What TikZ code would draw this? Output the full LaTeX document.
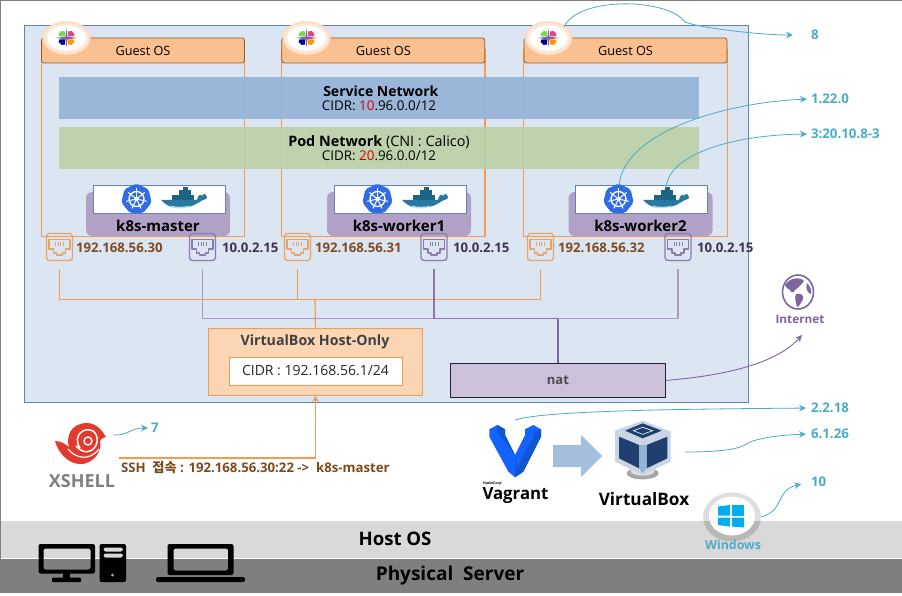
\documentclass[tikz,border=0pt]{standalone}
\usepackage{fontspec}
\setmainfont{Open Sans}
\newfontfamily\krfont{Noto Sans CJK KR}
\usetikzlibrary{arrows.meta,calc}
\definecolor{outerfill}{HTML}{DCE6F2}
\definecolor{outerline}{HTML}{5B86B5}
\definecolor{hdrfill}{HTML}{FAC090}
\definecolor{hdrline}{HTML}{8E5A2B}
\definecolor{frameor}{HTML}{F79A50}
\definecolor{svcblue}{HTML}{95B3D7}
\definecolor{podgreen}{HTML}{BBD1A8}
\definecolor{vmpurple}{HTML}{B2A1C7}
\definecolor{whiteline}{HTML}{5B86B5}
\definecolor{nicor}{HTML}{E8A368}
\definecolor{nicpu}{HTML}{8D7BAE}
\definecolor{ipbrown}{HTML}{7F4A1E}
\definecolor{ipdark}{HTML}{403152}
\definecolor{teal}{HTML}{4BACC6}
\definecolor{netpu}{HTML}{8064A2}
\definecolor{natfill}{HTML}{CCC1DA}
\definecolor{hofill}{HTML}{FCD5B5}
\definecolor{band1}{HTML}{D9D9D9}
\definecolor{band2}{HTML}{7F7F7F}
\definecolor{whalecol}{HTML}{27799F}
\definecolor{whaledark}{HTML}{1F6485}
\definecolor{winblue}{HTML}{00ADEF}
\definecolor{xsred}{HTML}{E23A2E}
\definecolor{vbnavy}{HTML}{1F3F6E}
\definecolor{vbedge}{HTML}{C9D6E6}
\newcommand{\fsz}[1]{\fontsize{#1}{#1}\selectfont}
\tikzset{
  x=1pt,y=-1pt,
  lbl/.style={inner sep=0pt,outer sep=0pt,align=center},
  gosthdr/.style={draw=hdrline,fill=hdrfill,rounded corners=2.5pt,line width=.8pt,minimum width=203pt,minimum height=25pt,inner sep=0pt,font=\fsz{12.7}},
  gostframe/.style={draw=frameor,line width=1.2pt},
  netband/.style={minimum width=640pt,minimum height=42pt,inner sep=0pt,align=center,font=\fsz{13.4},opacity=.92,text opacity=1},
  vmbox/.style={fill=vmpurple,rounded corners=6pt,minimum width=144pt,minimum height=44pt,inner sep=0pt},
  vmname/.style={lbl,font=\bfseries\fsz{15}},
  rtbox/.style={draw=whiteline,fill=white,line width=.7pt,minimum width=132pt,minimum height=28pt,inner sep=0pt},
  nicbox/.style={rounded corners=3pt,line width=1.3pt,minimum width=26pt,minimum height=27pt,inner sep=0pt},
  iplbl/.style={lbl,anchor=west,font=\bfseries\fsz{13.2}},
  oline/.style={draw=frameor,line width=1.2pt},
  pline/.style={draw=netpu!65!white,line width=1.5pt},
  tealarrow/.style={draw=teal,line width=.8pt,-{Stealth[length=7pt,width=6.5pt]}},
  ver/.style={lbl,anchor=west,font=\bfseries\fsz{13.3},text=teal},
}
\newcommand{\centosicon}[2]{%
  \begin{scope}[shift={(#1,#2)}]
    \fill[hofill!80!white] (0,0) ellipse (24 and 17);
    \fill[hdrfill!35!white] (0,0) ellipse (22 and 15);
    \fill[white] (0,0) ellipse (19 and 12.5);
    \fill[netpu] (-10.5,0)--(0,-1.5)--(10.5,0)--(0,1.5)--cycle;
    \fill[netpu] (0,-9)--(-1.2,0)--(0,9)--(1.2,0)--cycle;
    \fill[green!55!olive!70] (-1.5,-1.5)--(-7,-1.5)--(-8,-4)--(-5,-7)--(-1.5,-6.5)--cycle;
    \fill[magenta!60!purple!80] (1.5,-1.5)--(7,-1.5)--(8,-4)--(5,-7)--(1.5,-6.5)--cycle;
    \fill[blue!50!black] (-1.5,1.5)--(-7,1.5)--(-8,4)--(-5,7)--(-1.5,6.5)--cycle;
    \fill[orange!80!yellow] (1.5,1.5)--(7,1.5)--(8,4)--(5,7)--(1.5,6.5)--cycle;
  \end{scope}}
\newcommand{\kubeicon}[2]{%
  \begin{scope}[shift={(#1,#2)}]
    \fill[fill={rgb,255:red,50;green,108;blue,229},rounded corners=2pt]
      (-90:15.5)--(-38.6:15.5)--(12.9:15.5)--(64.3:15.5)--(115.7:15.5)--(167.1:15.5)--(218.6:15.5)--cycle;
    \draw[white,line width=1.3pt] (0,0) circle (7.5);
    \foreach \a in {-90,-38.6,12.9,64.3,115.7,167.1,218.6}{\draw[white,line width=1pt] (0,0)--(\a:10.5);}
    \fill[white] (0,0) circle (2.2);
  \end{scope}}
\newcommand{\whaleicon}[2]{%
  \begin{scope}[shift={(#1,#2)}]
    \fill[whaledark] (-11,-5) rectangle (11,0.5);
    \fill[whaledark] (-4,-9.5) rectangle (8,-5);
    \fill[whaledark] (0,-12.5) rectangle (5,-9.5);
    \fill[whalecol] (-22,0) -- (14,0) .. controls (15,-6) and (18,-6) .. (19,-4)
       .. controls (21,-7) and (23,-6) .. (23,-5) .. controls (24,-3) and (25,-2) .. (23,-1)
       .. controls (19,0) and (17,2) .. (13,4) .. controls (6,8.5) and (-10,9) .. (-14,6)
       .. controls (-18,4) and (-20,2) .. (-22,0) -- cycle;
    \fill[cyan!30!white] (-13,5.5) .. controls (-6,7.5) and (2,7) .. (7,5.5) .. controls (2,9.5) and (-10,9.5) .. (-13,5.5) -- cycle;
  \end{scope}}
\newcommand{\nicicon}[4]{% name,x,y,colour
  \node[nicbox,draw=#4] (#1) at (#2,#3) {};
  \begin{scope}[shift={(#2,#3)}]
    \draw[#4,line width=1.1pt,line join=round] (-10.5,-7.5)--(10.5,-7.5)--(10.5,2)--(6,2)--(6,6)--(3,6)--(3,8)--(-3,8)--(-3,6)--(-6,6)--(-6,2)--(-10.5,2)--cycle;
    \foreach \dx in {-4,-1.3,1.3,4}{\draw[#4,line width=.8pt] (\dx,-5)--(\dx,-1);}
  \end{scope}}
\begin{document}
\begin{tikzpicture}
\useasboundingbox (0,0) rectangle (902,596);
\fill[white] (0,0) rectangle (902,596);
% frame and bands
\node[fill=band1,anchor=north west,minimum width=902pt,minimum height=37pt,inner sep=0pt,outer sep=0pt] (hostband) at (0,521) {};
\node[fill=band2,anchor=north west,minimum width=902pt,minimum height=34pt,inner sep=0pt,outer sep=0pt] (physband) at (0,559) {};
\fill[black!50] (0,0) rectangle (902,1);
\fill[black!50] (0,0) rectangle (1,559);
% outer network box
\node[draw=outerline,fill=outerfill,line width=1pt,anchor=north west,minimum width=724.5pt,minimum height=376.5pt,inner sep=0pt] (outerbox) at (23.5,25) {};
% guest frames
\draw[gostframe] (41.8,50) rectangle (244.5,236.5);
\draw[gostframe] (281.8,50) rectangle (485,236.5);
\draw[gostframe] (523.8,50) rectangle (727.5,236.5);
% network bands
\node[netband,fill=svcblue] (svcnet) at (379,98) {{\bfseries\fsz{14} Service Network}\\[1pt]CIDR: \textcolor{red!85!black}{10}.96.0.0/12};
\node[netband,fill=podgreen] (podnet) at (379,148) {{\fsz{14.4}\textbf{Pod Network} (CNI : Calico)}\\[1pt]CIDR: \textcolor{red!85!black}{20}.96.0.0/12};
% guest headers
\node[gosthdr] (hdrA) at (143,50.5) {Guest OS};
\node[gosthdr] (hdrB) at (383.3,50.5) {Guest OS};
\node[gosthdr] (hdrC) at (625.5,50.5) {Guest OS};
\centosicon{66.5}{38}
\centosicon{306.5}{38}
\centosicon{548.5}{38}
\coordinate (centC) at (564,27);
% VMs
\node[vmbox] (vmA) at (158,214) {};
\node[vmbox] (vmB) at (399,214) {};
\node[vmbox] (vmC) at (640.5,214) {};
\node[rtbox] (rtA) at (159.3,199.3) {};
\node[rtbox] (rtB) at (400.5,199.3) {};
\node[rtbox] (rtC) at (641.8,199.3) {};
\node[vmname] (nameA) at (158,226) {k8s-master};
\node[vmname] (nameB) at (399,226) {k8s-worker1};
\node[vmname] (nameC) at (640.5,226) {k8s-worker2};
\kubeicon{136.5}{199}
\kubeicon{377.5}{199}
\kubeicon{618.5}{199}
\whaleicon{183}{200}
\whaleicon{424}{200}
\whaleicon{665}{200}
\coordinate (kubeC) at (619,185);
\coordinate (whaleC) at (666,188);
% NICs
\nicicon{nicA}{59.5}{247}{nicor}
\nicicon{nicB}{297.5}{247}{nicor}
\nicicon{nicC}{540.5}{247}{nicor}
\nicicon{nicD}{202.5}{247}{nicpu}
\nicicon{nicE}{434}{247}{nicpu}
\nicicon{nicF}{678}{247}{nicpu}
\node[iplbl,text=ipbrown] (ipA) at (76,248) {192.168.56.30};
\node[iplbl,text=ipbrown] (ipB) at (315,248) {192.168.56.31};
\node[iplbl,text=ipbrown] (ipC) at (558,248) {192.168.56.32};
\node[iplbl,text=ipdark] (ipD) at (222,248) {10.0.2.15};
\node[iplbl,text=ipdark] (ipE) at (453,248) {10.0.2.15};
\node[iplbl,text=ipdark] (ipF) at (697,248) {10.0.2.15};
% boxes
\node[draw=frameor,fill=hofill,line width=.9pt,anchor=north west,minimum width=214pt,minimum height=67pt,inner sep=0pt] (hostonly) at (208,328) {};
\node[lbl,font=\bfseries\fsz{14.2},text=black!75] (hotitle) at (315,342) {VirtualBox Host-Only};
\node[draw=frameor,fill=white,line width=.9pt,minimum width=173pt,minimum height=28pt,inner sep=0pt,font=\fsz{14},text=black!85] (hocidr) at (315.5,371) {CIDR : 192.168.56.1/24};
\node[draw=black!70!netpu,fill=natfill,line width=.9pt,anchor=north west,minimum width=215pt,minimum height=34pt,inner sep=0pt,font=\bfseries\fsz{13},text=black!70] (nat) at (450,363) {nat};
% buses
\coordinate (jo) at (315,299.5);
\coordinate (jp) at (558,318.5);
\draw[oline,shorten <=8pt] (nicA.south) |- (jo);
\draw[oline,shorten <=8pt] (nicB.south) |- (jo);
\draw[oline,shorten <=8pt] (nicC.south) |- (jo);
\draw[oline] (jo) -- (hostonly.north);
\draw[pline,shorten <=8pt] (nicD.south) |- (jp);
\draw[pline,shorten <=8pt] (nicF.south) |- (jp);
\draw[draw=netpu!90!white,line width=1.2pt,shorten <=8pt] (nicE.south) |- (jp);
\draw[draw=netpu,line width=1.2pt] (jp) -- (558,363);
% internet
\begin{scope}[shift={(798,292)}]
  \fill[white] (0,0) ellipse (15.5 and 17);
  \draw[netpu,line width=1.6pt] (0,0) ellipse (15.5 and 17);
  \fill[netpu] (-13,-7) .. controls (-8,-15) and (3,-15) .. (6,-11) .. controls (3,-7) and (0,-4) .. (-3,-2) .. controls (-4,2) and (-8,0) .. (-8,-2) .. controls (-11,-3) and (-12,-5) .. (-13,-7) -- cycle;
  \fill[netpu] (-2,2) .. controls (3,1) and (6,3) .. (5,7) .. controls (3,11) and (1,15) .. (-1,15) .. controls (-2,10) and (-4,6) .. (-2,2) -- cycle;
  \fill[netpu] (9,-9) .. controls (12,-6) and (14,-2) .. (13,2) .. controls (10,2) and (7,-4) .. (9,-9) -- cycle;
\end{scope}
\node[lbl,font=\bfseries\fsz{11.8},text=netpu] (inetlbl) at (800,319) {Internet};
\coordinate (inetend) at (802,335);
\draw[draw=netpu,line width=.9pt,-{Stealth[length=7pt,width=6.5pt]}] (nat.east) .. controls (720,376) and (775,365) .. (inetend);
% versions
\node[ver] (v8) at (811,35) {8};
\node[ver] (v122) at (811,99) {1.22.0};
\node[ver] (v320) at (811,134) {3:20.10.8-3};
\node[ver] (v2218) at (811,408) {2.2.18};
\node[ver] (v6126) at (811,434) {6.1.26};
\node[ver] (v10) at (811,482) {10};
\node[ver] (v7) at (151,428) {7};
\draw[tealarrow,shorten >=18pt] (centC) .. controls (578,-4) and (668,-2) .. (685,22) .. controls (700,28) and (760,35) .. (v8.west);
\draw[tealarrow,shorten >=4pt] (kubeC) .. controls (625,130) and (730,102) .. (v122.west);
\draw[tealarrow,shorten >=4pt] (whaleC) .. controls (668,155) and (730,135) .. (v320.west);
\coordinate (vagC) at (515,420);
\coordinate (vbC) at (685,452);
\coordinate (winC) at (760,517);
\coordinate (xsC) at (113,435);
\draw[tealarrow,shorten >=5pt] (vagC) .. controls (545,410) and (700,409) .. (v2218.west);
\draw[tealarrow,shorten >=5pt] (vbC) .. controls (715,452) and (740,450) .. (748,443) .. controls (758,438) and (780,435) .. (v6126.west);
\draw[tealarrow,shorten >=10pt] (winC) .. controls (785,512) and (775,490) .. (v10.west);
\draw[tealarrow,shorten >=3pt] (xsC) .. controls (128,436) and (130,428) .. (v7.west);
% xshell logo
\begin{scope}
  \fill[xsred] (55,441) .. controls (62,441) and (66,445) .. (69,447) .. controls (66,437) and (70,424) .. (86,423) .. controls (94,423) and (100,427) .. (106,437) .. controls (102,438) and (101,439) .. (100,441) .. controls (103,452) and (92,465) .. (79,464) .. controls (67,463) and (58,452) .. (55,441) -- cycle;
  \draw[white,line width=1.4pt] (88,441) circle (4);
  \draw[white,line width=1.5pt] (80,448) .. controls (72,436) and (84,426) .. (93,431) .. controls (100,436) and (98,448) .. (90,451) .. controls (86,453) and (80,451) .. (76,446);
  \draw[white,line width=1.2pt] (68,449) .. controls (76,459) and (90,461) .. (99,449);
\end{scope}
\node[lbl,font=\bfseries\fsz{18},text=black!50] (xshell) at (82,481) {XSHELL};
\coordinate (sshstart) at (119,458);
\draw[draw=frameor,line width=1.2pt,-{Stealth[length=6pt,width=7pt]}] (sshstart) -| (hostonly.south);
\node[lbl,anchor=west,font=\bfseries\fsz{13.2},text=ipbrown] (sshlbl) at (121,468) {SSH~~{\krfont\bfseries 접속} : 192.168.56.30:22 ->~~k8s-master};
% vagrant
\begin{scope}[shift={(460,390)},scale=1/3]
  \fill[fill={rgb,255:red,21;green,99;blue,255}] (88,118)--(112,105)--(135,118)--(135,135)--(165,195)--(195,135)--(195,118)--(220,105)--(243,118)--(243,140)--(190,245)--(165,262)--(145,245)--(88,140)--cycle;
  \fill[fill={rgb,255:red,16;green,86;blue,210}] (135,118)--(135,135)--(165,195)--(165,262)--(190,245)--(243,140)--(243,118)--(220,128)--(220,140)--(170,235)--(165,195)--(112,128)--(112,105)--cycle;
\end{scope}
\node[lbl,anchor=west,font=\bfseries\fsz{3.6}] (hashi) at (483,484) {HashiCorp};
\node[lbl,font=\bfseries\fsz{16.8}] (vagrant) at (515.5,496) {Vagrant};
% block arrow
\fill[svcblue!85!white] (553,445)--(581,445)--(581,435)--(602,456)--(581,477)--(581,467)--(553,467)--cycle;
% virtualbox cube
\begin{scope}[shift={(460,390)},scale=1/3]
  \fill[black!35] (548,250) ellipse (48 and 18);
  \fill[black!12] (548,243) ellipse (36 and 14);
  \fill[vbedge] (465,122)--(548,92)--(632,125)--(632,215)--(548,255)--(465,215)--cycle;
  \fill[vbnavy] (495,122)--(548,100)--(605,122)--(548,145)--cycle;
  \fill[vbnavy] (477,140)--(537,165)--(537,235)--(477,205)--cycle;
  \fill[vbnavy] (560,165)--(622,140)--(622,205)--(560,235)--cycle;
  \fill[svcblue] (537,165)--(560,165)--(560,235)--(548,250)--(537,235)--cycle;
  \draw[white,line width=.6pt] (520,122)--(548,112)--(578,122)--(548,133)--cycle;
\end{scope}
\node[lbl,font=\bfseries\fsz{17.2}] (vbox) at (644,499) {VirtualBox};
% windows
\begin{scope}
  \begin{scope}
    \clip (690,480) rectangle (780,521);
    \fill[black!13] (732,517) ellipse (29 and 24.5);
  \end{scope}
  \begin{scope}
    \clip (690,521) rectangle (780,560);
    \fill[black!28] (732,517) ellipse (29 and 24.5);
  \end{scope}
  \fill[white] (732,516) ellipse (23 and 19.5);
  \fill[winblue] (718,506.5)--(730,505)--(730,515.5)--(718,515.5)--cycle;
  \fill[winblue] (732,504.5)--(744,504.5)--(744,515.5)--(732,515.5)--cycle;
  \fill[winblue] (718,517.5)--(730,517.5)--(730,526.5)--(718,525)--cycle;
  \fill[winblue] (732,517.5)--(744,517.5)--(744,527.5)--(732,526.5)--cycle;
\end{scope}
\node[lbl,font=\bfseries\fsz{12.4},text=teal] (winlbl) at (733,545) {Windows};
% host labels
\node[lbl,font=\bfseries\fsz{18.6}] (hostos) at (395,539) {Host OS};
\node[lbl,font=\bfseries\fsz{19}] (physsrv) at (450,576) {Physical~~Server};
% desktop
\fill[black,even odd rule,rounded corners=2pt] (38.5,544) rectangle (95,573.5) (43.5,548.5) rectangle (90.5,569.5);
\fill[black] (63,573) rectangle (70,579);
\fill[black,rounded corners=1pt] (52,577.5) rectangle (81,582);
\fill[black,rounded corners=2pt,even odd rule] (99.5,544) rectangle (126,582)
  (103.5,547.5) rectangle (123,551.5) (103.5,553.5) rectangle (123,557.5);
\fill[band2!60!white] (112.5,575) circle (1.5);
\fill[black,even odd rule,rounded corners=2pt] (167.5,544) rectangle (233.5,575) (173.5,548.5) rectangle (228,570.5);
\fill[black,rounded corners=1.5pt] (156,577) rectangle (245,582);
\end{tikzpicture}
\end{document}
